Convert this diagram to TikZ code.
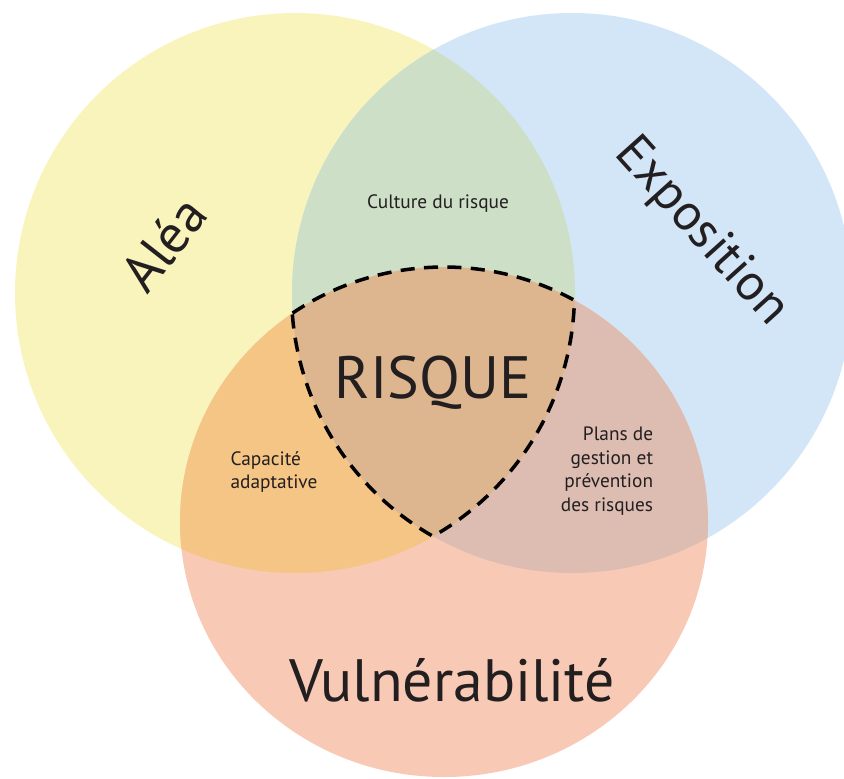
\documentclass[tikz,border=0pt]{standalone}
\usepackage{fontspec}
\setmainfont{PT Sans}
\definecolor{aleacol}{HTML}{F9F4BC}
\definecolor{expocol}{HTML}{D3E6F7}
\definecolor{vulncol}{HTML}{F8C9B4}
\definecolor{culturecol}{HTML}{CEDFC8}
\definecolor{capacol}{HTML}{F5C585}
\definecolor{planscol}{HTML}{DDBDB2}
\definecolor{risquecol}{HTML}{DDB68F}
\definecolor{textcol}{HTML}{231F20}

\begin{document}
\begin{tikzpicture}[x=0.03cm,y=-0.03cm,
    big/.style={text=textcol,inner sep=0pt,font=\fontsize{51}{51}\selectfont},
    small/.style={text=textcol,inner sep=0pt,font=\fontsize{16.5}{20}\selectfont},
    risk/.style={line width=3pt,dash pattern=on 12pt off 8pt}]
    \useasboundingbox (0,0) rectangle (844,778);
    \coordinate (A) at (295,293);
    \coordinate (E) at (572,293);
    \coordinate (V) at (444,522);
    \fill[aleacol] (A) circle (280);
    \fill[expocol] (E) circle (280);
    \fill[vulncol] (V) ellipse (264 and 255);
    \begin{scope}
        \clip (A) circle (280);
        \fill[culturecol] (E) circle (280);
        \fill[capacol] (V) ellipse (264 and 255);
    \end{scope}
    \begin{scope}
        \clip (E) circle (280);
        \fill[planscol] (V) ellipse (264 and 255);
        \clip (A) circle (280);
        \fill[risquecol] (V) ellipse (264 and 255);
    \end{scope}
    % contour du risque
    \draw[risk] ([shift={(235:264 and 255)}]V)
        arc[start angle=235,end angle=299.6,x radius=264,y radius=255]
        arc[start angle=1.5,end angle=60.35,radius=280]
        arc[start angle=119.65,end angle=175.9,radius=280] -- cycle;
    \node[big,rotate=52,font=\fontsize{46}{46}\selectfont] (alea) at (164,244) {Aléa};
    \node[big,rotate=-48,font=\fontsize{44}{44}\selectfont] (expo) at (701,232) {Exposition};
    \node[big,anchor=base] (vuln) at (452,701) {Vulnérabilité};
    \node[big,anchor=base] (risque) at (433,398) {RISQUE};
    \node[small] (culture) at (438,204) {Culture du risque};
    \node[small,align=left] (capa) at (274,472) {Capacité\\adaptative};
    \node[small,align=right] (plans) at (607,471) {Plans de\\gestion et\\prévention\\des risques};
\end{tikzpicture}
\end{document}
